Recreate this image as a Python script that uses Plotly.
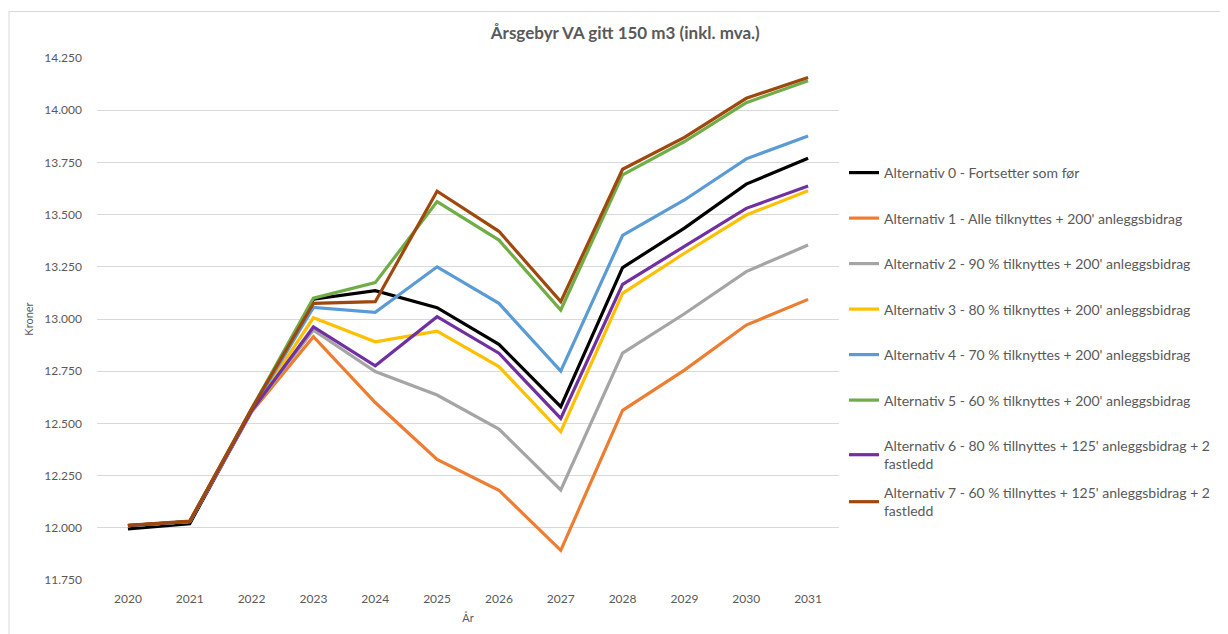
import plotly.graph_objects as go

years = ["2020", "2021", "2022", "2023", "2024", "2025", "2026", "2027", "2028", "2029", "2030", "2031"]

names = [
    "Alternativ 0 - Fortsetter som før",
    "Alternativ 1 - Alle tilknyttes + 200' anleggsbidrag",
    "Alternativ 2 - 90 % tilknyttes + 200' anleggsbidrag",
    "Alternativ 3 - 80 % tilknyttes + 200' anleggsbidrag",
    "Alternativ 4 - 70 % tilknyttes + 200' anleggsbidrag",
    "Alternativ 5 - 60 % tilknyttes + 200' anleggsbidrag",
    "Alternativ 6 - 80 % tillnyttes + 125' anleggsbidrag + 2<br>fastledd",
    "Alternativ 7 - 60 % tillnyttes + 125' anleggsbidrag + 2<br>fastledd",
]

alt0 = [11995, 12020, 12560, 13095, 13136, 13054, 12879, 12580, 13246, 13435, 13646, 13770]
alt1 = [12010, 12030, 12555, 12915, 12600, 12328, 12180, 11892, 12562, 12755, 12971, 13094]
alt2 = [12010, 12030, 12560, 12947, 12748, 12636, 12473, 12181, 12837, 13025, 13227, 13354]
alt3 = [12010, 12030, 12560, 13006, 12891, 12942, 12772, 12460, 13123, 13315, 13498, 13614]
alt4 = [12010, 12030, 12565, 13056, 13032, 13250, 13075, 12750, 13400, 13570, 13767, 13876]
alt5 = [12010, 12030, 12570, 13100, 13174, 13562, 13378, 13043, 13690, 13850, 14036, 14141]
alt6 = [12010, 12030, 12560, 12962, 12776, 13011, 12836, 12524, 13166, 13346, 13530, 13637]
alt7 = [12012, 12032, 12570, 13075, 13083, 13612, 13420, 13083, 13717, 13870, 14057, 14157]

series = [alt0, alt1, alt2, alt3, alt4, alt5, alt6, alt7]
colors = ["#000000", "#ED7D31", "#A5A5A5", "#FFC000", "#5B9BD5", "#70AD47", "#7030A0", "#9E480E"]

y_ticks = [11750, 12000, 12250, 12500, 12750, 13000, 13250, 13500, 13750, 14000, 14250]

FONT = "Lato"
GREY = "#595959"

W, H = 1220, 626
L, R, T, B = 89, 385, 50, 54
PW, PH = W - L - R, H - T - B

fig = go.Figure()
for i, (nm, vals, col) in enumerate(zip(names, series, colors)):
    fig.add_trace(go.Scatter(
        x=years, y=vals, name=nm, mode="lines",
        line=dict(color=col, width=3.2),
        legendgroup=f"g{i}",
        legend="legend2" if i == len(names) - 1 else "legend",
    ))

legend_style = dict(font=dict(family=FONT, size=14, color=GREY),
                    tracegroupgap=24.3, itemwidth=30, bgcolor="rgba(0,0,0,0)",
                    xanchor="left", yanchor="top", x=(840 - L) / PW)

fig.update_layout(
    width=W, height=H,
    margin=dict(l=L, r=R, t=T, b=B),
    paper_bgcolor="white", plot_bgcolor="white",
    separators=",.",
    font=dict(family=FONT, color=GREY, size=12),
    title=dict(text="<b>Årsgebyr VA gitt 150 m3 (inkl. mva.)</b>",
               x=0.506, xanchor="center", y=1 - 25 / H, yanchor="middle",
               font=dict(family=FONT, size=17, color=GREY)),
    xaxis=dict(type="category", range=[-0.5, 11.5], showgrid=False, zeroline=False,
               showline=False, ticks="",
               ticklabelstandoff=10,
               tickfont=dict(size=12, color=GREY),
               title=dict(text="År", font=dict(size=11, color=GREY), standoff=9)),
    yaxis=dict(range=[11750, 14250], tickvals=y_ticks, tickformat=",d",
               showgrid=True, gridcolor="#D9D9D9", gridwidth=1,
               zeroline=False, showline=False, ticks="",
               ticklabelstandoff=14,
               tickfont=dict(size=12, color=GREY),
               title=dict(text="Kroner", font=dict(size=11, color=GREY), standoff=8)),
    legend=dict(y=1 - (149 - T) / PH, **legend_style),
    legend2=dict(y=1 - (469 - T) / PH, **legend_style),
    shapes=[dict(type="rect", xref="paper", yref="paper",
                 x0=(0.5 - L) / PW, x1=(W + 20 - L) / PW,
                 y0=-(B + 20) / PH, y1=(H - 3.5 - B) / PH,
                 line=dict(color="#D9D9D9", width=1), layer="below")],
)

fig.write_html("out.html")
